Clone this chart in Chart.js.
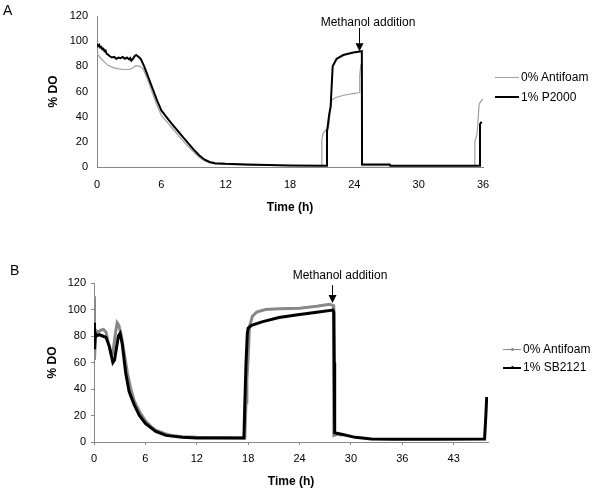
<!DOCTYPE html>
<html>
<head>
<meta charset="utf-8">
<script src="https://cdn.jsdelivr.net/npm/chart.js@4.4.0/dist/chart.umd.min.js"></script>
<style>
  body { margin: 0; background: #fff; font-family: "Liberation Sans", Arial, sans-serif; }
  #page { position: relative; width: 600px; height: 490px; overflow: hidden; }
  .box { position: absolute; left: 0; }
  .txt { position: absolute; font-size: 12px; color: #000; white-space: nowrap; line-height: 14px; }
  .mid { transform: translate(-50%, -50%); }
  .panel { position: absolute; font-size: 14px; line-height: 14px; }
  .swatch { position: absolute; height: 0; }
  .dot { position: absolute; width: 3px; height: 3px; border-radius: 50%; }
</style>
</head>
<body>
<div id="page">
  <div class="box" style="top:0"><canvas id="chartA" width="600" height="230"></canvas></div>
  <div class="box" style="top:240px"><canvas id="chartB" width="600" height="250"></canvas></div>

  <div class="panel" style="left:3px; top:3px">A</div>
  <div class="panel" style="left:10px; top:263px">B</div>

  <div class="txt mid" style="left:368px; top:22px">Methanol addition</div>
  <div class="txt mid" style="left:340px; top:275px">Methanol addition</div>

  <!-- légende A -->
  <div class="swatch" style="left:495px; top:77px; width:24px; border-top:1px solid #a0a0a0"></div>
  <div class="txt" id="legA0" style="left:521px; top:70px"></div>
  <div class="swatch" style="left:495px; top:96px; width:24px; border-top:2px solid #000"></div>
  <div class="txt" id="legA1" style="left:521px; top:90px"></div>

  <!-- légende B -->
  <div class="swatch" style="left:503px; top:349px; width:18px; border-top:1px solid #888"></div>
  <div class="dot" style="left:511px; top:348px; background:#888"></div>
  <div class="txt" id="legB0" style="left:523px; top:342px"></div>
  <div class="swatch" style="left:503px; top:367px; width:18px; border-top:2px solid #000"></div>
  <div class="dot" style="left:511px; top:366px; background:#000"></div>
  <div class="txt" id="legB1" style="left:523px; top:360px"></div>
</div>

<script>
// ticks et libellés
const yTicks = [0, 20, 40, 60, 80, 100, 120];
const xTicksA = [0, 6, 12, 18, 24, 30, 36];
const xTicksB = [0, 6, 12, 18, 24, 30, 36, 42];
const xLabelsB = ["0", "6", "12", "18", "24", "30", "36", "43"];
const namesA = ["0% Antifoam", "1% P2000"];
const namesB = ["0% Antifoam", "1% SB2121"];

// heure de l'ajout de méthanol
const methanolA = 24.4;
const methanolB = 27.8;

// [temps (h), % DO]
const antifoamA = [
  [0, 90], [0.5, 85], [1, 81], [1.5, 79], [2, 78], [2.5, 77.5], [3, 77.5], [3.3, 78.5],
  [3.6, 80.5], [4, 80], [4.3, 78], [4.6, 72], [5, 63], [5.5, 51], [6, 41], [6.5, 36],
  [7, 31], [7.5, 26], [8, 21], [8.5, 16.5], [9, 12], [9.5, 8], [10, 5], [10.5, 3.5],
  [11, 2.5], [12, 2], [14, 1.5], [18, 1], [20.95, 1], [20.97, 22], [21.1, 27], [21.3, 29],
  [21.6, 31], [21.75, 45], [21.9, 53], [22.2, 55], [23, 57], [24, 58.5], [24.45, 59],
  [24.5, 72], [24.6, 81], [24.68, 82], [24.7, 1], [30, 1], [35.2, 1], [35.24, 20],
  [35.45, 26.5], [35.64, 50], [35.86, 53], [36, 54]
];
const p2000A = [
  [0, 98], [0.1, 96], [0.2, 97], [0.3, 95], [0.4, 95.5], [0.5, 93.5], [0.6, 94], [0.7, 92],
  [0.8, 92.5], [0.9, 90], [1.0, 89.5], [1.2, 88], [1.4, 87], [1.6, 87.5], [1.8, 86], [2.0, 87],
  [2.2, 86.5], [2.4, 87.5], [2.6, 86], [2.8, 87], [3.0, 85.5], [3.1, 86.5], [3.2, 84.5],
  [3.35, 86], [3.5, 88], [3.65, 89], [3.8, 88], [3.95, 87], [4.1, 85.5], [4.4, 80], [4.8, 71],
  [5.2, 62], [5.6, 53], [6.0, 45], [6.5, 39.5], [7, 34], [7.5, 29], [8, 24], [8.5, 19],
  [9, 14], [9.5, 9.5], [10, 6], [10.5, 4], [11, 3], [12, 2.5], [14, 2], [16, 1.5], [18, 1.2],
  [21.4, 1], [21.45, 28], [21.66, 42], [21.79, 48], [21.98, 80], [22.35, 86], [22.97, 89],
  [23.9, 91], [24.7, 92], [24.72, 2], [27.3, 2], [27.35, 1], [35.7, 1], [35.72, 34], [35.86, 36]
];
const antifoamB = [
  [0, 75], [0.03, 110], [0.08, 62], [0.15, 76], [0.25, 84], [0.5, 83], [0.8, 84.5], [1.1, 85],
  [1.4, 83], [1.7, 74], [2.0, 66], [2.2, 67], [2.5, 82], [2.7, 90], [2.9, 88], [3.2, 80],
  [3.5, 68], [3.9, 52], [4.3, 40], [4.7, 31], [5.3, 23], [6.0, 16], [6.6, 12], [7.2, 9],
  [8.0, 7], [8.4, 6], [9, 5], [10.3, 4], [12, 3.5], [17.6, 3], [17.75, 30], [17.85, 47],
  [18.0, 64], [18.15, 87], [18.5, 95], [19, 98], [20, 100], [21.6, 100.5], [24, 101],
  [26, 102.5], [27.5, 104], [27.95, 103], [28.0, 5], [28.5, 6], [29, 5]
];
const sb2121B = [
  [0, 90], [0.03, 72], [0.06, 88], [0.1, 70], [0.15, 82], [0.3, 80], [0.6, 81], [1.0, 80],
  [1.4, 79], [1.8, 72], [2.2, 60], [2.4, 62], [2.6, 70], [2.85, 80], [3.05, 82], [3.3, 74],
  [3.7, 52], [4.1, 38], [4.7, 28], [5.3, 20], [6, 14], [7.2, 8], [8.4, 5], [10.3, 3.5],
  [12, 3], [17.5, 3], [17.6, 27], [17.75, 60], [17.9, 82], [18.0, 86], [18.4, 88],
  [19.6, 90.7], [21.6, 94], [23.8, 96], [26, 98], [27.9, 99.6], [28.0, 98], [28.05, 60],
  [28.1, 7], [29.3, 5.3], [30.5, 3.5], [32.4, 2.3], [35, 2], [40, 2], [45.6, 2.3],
  [45.75, 20], [45.85, 34]
];

document.getElementById("legA0").textContent = namesA[0];
document.getElementById("legA1").textContent = namesA[1];
document.getElementById("legB0").textContent = namesB[0];
document.getElementById("legB1").textContent = namesB[1];

const toPoints = (rows) => rows.map(([x, y]) => ({ x, y }));

// flèche "Methanol addition"
const arrowPlugin = {
  id: "methanolArrow",
  afterDatasetsDraw(chart, args, opts) {
    const { ctx, chartArea } = chart;
    const px = Math.round(chart.scales.x.getPixelForValue(opts.time)) + 0.5;
    const tip = chart.scales.y.getPixelForValue(opts.level);
    const start = chartArea.top + opts.gap;
    ctx.save();
    ctx.strokeStyle = "#000";
    ctx.fillStyle = "#000";
    ctx.lineWidth = 1;
    ctx.beginPath();
    ctx.moveTo(px, start);
    ctx.lineTo(px, tip - 7);
    ctx.stroke();
    ctx.beginPath();
    ctx.moveTo(px - 4, tip - 8);
    ctx.lineTo(px + 4, tip - 8);
    ctx.lineTo(px, tip);
    ctx.closePath();
    ctx.fill();
    ctx.restore();
  }
};

const tickFont = { family: "'Liberation Sans', Arial, sans-serif", size: 11 };
const titleFont = { family: "'Liberation Sans', Arial, sans-serif", size: 12, weight: "bold" };

function makeChart(id, cfg) {
  return new Chart(document.getElementById(id), {
    type: "line",
    data: { datasets: cfg.datasets },
    plugins: [arrowPlugin],
    options: {
      responsive: false,
      animation: false,
      layout: { padding: { top: cfg.top, right: cfg.right, left: 0, bottom: 0 } },
      plugins: {
        legend: { display: false },
        tooltip: { enabled: false },
        methanolArrow: cfg.arrow
      },
      scales: {
        x: {
          type: "linear",
          min: 0,
          max: cfg.xMax,
          afterBuildTicks: (s) => { s.ticks = cfg.xTicks.map((v) => ({ value: v })); },
          afterFit: (s) => { s.height = cfg.xHeight; },
          grid: { drawOnChartArea: false, drawTicks: cfg.tickLen > 0, tickLength: cfg.tickLen, color: "#888" },
          border: { color: "#888" },
          ticks: { font: tickFont, color: "#000", padding: cfg.xPad, maxRotation: 0, autoSkip: false,
                   callback: cfg.xLabel },
          title: { display: true, text: "Time (h)", font: titleFont, color: "#000",
                   padding: { top: 0, bottom: cfg.xTitlePad } }
        },
        y: {
          min: 0,
          max: 120,
          afterBuildTicks: (s) => { s.ticks = yTicks.map((v) => ({ value: v })); },
          afterFit: (s) => { s.width = cfg.yWidth; },
          grid: { drawOnChartArea: false, drawTicks: cfg.tickLen > 0, tickLength: cfg.tickLen, color: "#888" },
          border: { color: "#888" },
          ticks: { font: tickFont, color: "#000", padding: cfg.yPad },
          title: { display: true, text: "% DO", font: titleFont, color: "#000",
                   padding: { top: cfg.yTitlePad, bottom: 0 } }
        }
      },
      elements: { point: { radius: 0 }, line: { tension: 0 } }
    }
  });
}

makeChart("chartA", {
  top: 16, right: 117, xMax: 36, xTicks: xTicksA, xHeight: 63, yWidth: 97,
  tickLen: 0, xPad: 11, yPad: 9, xTitlePad: 15, yTitlePad: 46,
  xLabel: (v) => String(v),
  arrow: { time: methanolA, level: 92, gap: 12 },
  datasets: [
    { label: namesA[1], data: toPoints(p2000A), borderColor: "#000", borderWidth: 2, order: 1 },
    { label: namesA[0], data: toPoints(antifoamA), borderColor: "#a0a0a0", borderWidth: 1.2, order: 2 }
  ]
});

makeChart("chartB", {
  top: 43, right: 112, xMax: 46, xTicks: xTicksB, xHeight: 48, yWidth: 94,
  tickLen: 3, xPad: 7, yPad: 5, xTitlePad: 1, yTitlePad: 45,
  xLabel: (v, i) => xLabelsB[i],
  arrow: { time: methanolB, level: 105, gap: 2 },
  datasets: [
    { label: namesB[1], data: toPoints(sb2121B), borderColor: "#000", borderWidth: 3, order: 1 },
    { label: namesB[0], data: toPoints(antifoamB), borderColor: "#888", borderWidth: 3, order: 2 }
  ]
});
</script>
</body>
</html>
